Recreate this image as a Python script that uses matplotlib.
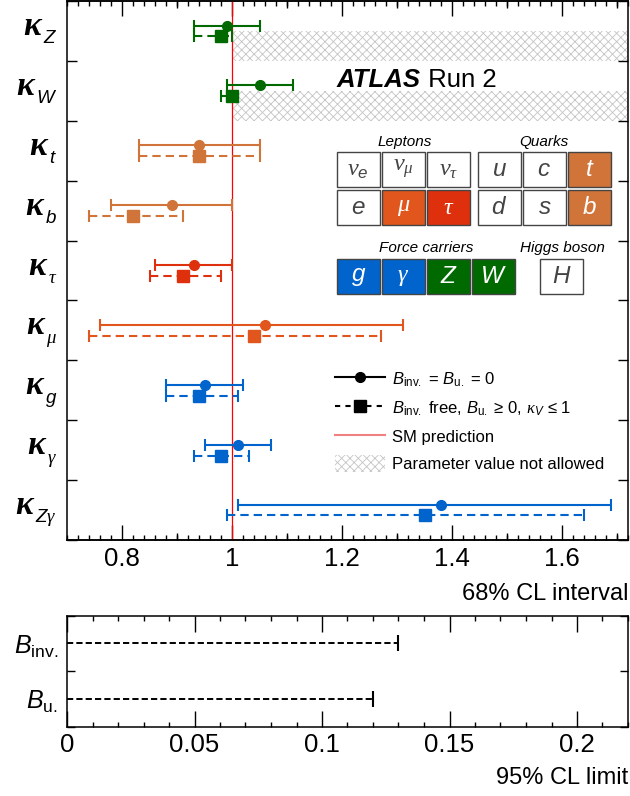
import numpy as np
import matplotlib
matplotlib.use('Agg')
import matplotlib.pyplot as plt
from matplotlib.lines import Line2D
from matplotlib.patches import Patch, Rectangle
from matplotlib.ticker import MultipleLocator, FuncFormatter, NullFormatter

plt.rcParams['font.family'] = ['Liberation Sans', 'DejaVu Sans']
plt.rcParams['mathtext.fontset'] = 'custom'
plt.rcParams['mathtext.rm'] = 'Liberation Sans'
plt.rcParams['mathtext.it'] = 'Liberation Sans:italic'
plt.rcParams['mathtext.bf'] = 'Liberation Sans:bold'
plt.rcParams['mathtext.cal'] = 'Liberation Serif:italic'
plt.rcParams['hatch.linewidth'] = 0.6
plt.rcParams['hatch.color'] = '#c4c4c4'

# coupling modifiers kappa_X (subscripts), 68% CL intervals
params = ['$Z$', '$W$', '$t$', '$b$', r'$\mathcal{\tau}$', r'$\mathcal{\mu}$',
          '$g$', r'$\mathcal{\gamma}$', r'$Z\mathcal{\gamma}$']
# B_inv = B_u = 0
val_fixed = [0.99, 1.05, 0.94, 0.89, 0.93, 1.06, 0.95, 1.01, 1.38]
lo_fixed = [0.93, 0.99, 0.83, 0.78, 0.86, 0.76, 0.88, 0.95, 1.01]
hi_fixed = [1.05, 1.11, 1.05, 1.00, 1.00, 1.31, 1.02, 1.07, 1.69]
# B_inv free, B_u >= 0, kappa_V <= 1
val_free = [0.98, 1.00, 0.94, 0.82, 0.91, 1.04, 0.94, 0.98, 1.35]
lo_free = [0.93, 0.98, 0.83, 0.74, 0.85, 0.74, 0.88, 0.93, 0.99]
hi_free = [1.00, 1.00, 1.05, 0.91, 0.98, 1.27, 1.01, 1.03, 1.64]
bounded = [True, True, False, False, False, False, False, False, False]

# branching ratio limits, 95% CL
br_names = [r'$B_{\mathrm{inv.}}$', r'$B_{\mathrm{u.}}$']
br_limits = [0.13, 0.12]

green = '#006a00'
top_col = '#d0743a'
mu_col = '#e0561c'
tau_col = '#df300e'
blue = '#0064cc'
hatch_col = '#c4c4c4'
row_colors = [green, green, top_col, top_col, tau_col, mu_col, blue, blue, blue]

fig = plt.figure(figsize=(6.3, 7.96), dpi=100)
ax = fig.add_axes([67/630, 1 - 540/796, 561/630, 539/796])
ax2 = fig.add_axes([67/630, 1 - 726.7/796, 561/630, 111/796])

xmax = 1.72
rows = np.arange(len(params))[::-1]
off = 0.09

ax.axvline(1.0, color='red', lw=0.9, zorder=2)

for i, y in enumerate(rows):
    c = row_colors[i]
    ax.errorbar(val_fixed[i], y + off,
                xerr=[[val_fixed[i] - lo_fixed[i]], [hi_fixed[i] - val_fixed[i]]],
                fmt='o', color=c, ms=7, lw=1.5, capsize=4, capthick=1.5, zorder=4)
    eb = ax.errorbar(val_free[i], y - off,
                     xerr=[[val_free[i] - lo_free[i]], [hi_free[i] - val_free[i]]],
                     fmt='s', color=c, ms=8, lw=1.5, capsize=4, capthick=1.5, zorder=4)
    eb[2][0].set_linestyle((0, (4, 2.4)))
    if bounded[i]:
        ax.fill_betweenx([y - 0.5, y], 1.0, xmax, facecolor='white',
                         edgecolor=hatch_col, hatch='xxxx', lw=0, zorder=1)

# kappa labels: serif kappa with a lowered subscript
ytr = ax.get_yaxis_transform()
for i, y in enumerate(rows):
    sub = ax.annotate(params[i], xy=(0, y), xycoords=ytr, xytext=(-7.2, -8.9),
                      textcoords='offset points', ha='right', va='baseline',
                      fontsize=13.5, annotation_clip=False)
    ax.annotate('κ', xy=(0, y), xycoords=(sub, ytr), xytext=(-1.5, -2.9),
                textcoords='offset points', ha='right', va='baseline',
                fontsize=24, family='Liberation Serif', style='italic',
                weight='bold', annotation_clip=False)

fmt = FuncFormatter(lambda v, p: '%g' % round(v, 4))

ax.set_xlim(0.7, xmax)
ax.set_ylim(-0.5, len(params) - 0.5)
ax.xaxis.set_major_locator(MultipleLocator(0.2))
ax.xaxis.set_minor_locator(MultipleLocator(0.02))
ax.xaxis.set_major_formatter(fmt)
ax.set_yticks([])
ax.yaxis.set_minor_locator(MultipleLocator(1.0, offset=0.5))
ax.tick_params(axis='x', which='major', direction='in', length=10.8, width=1,
               top=True, labelsize=18.5, pad=5)
ax.tick_params(axis='x', which='minor', direction='in', length=3.5, width=1, top=True)
ax.tick_params(axis='y', which='minor', direction='in', length=7.2, width=1, right=True)
for side in ('bottom', 'top'):
    sec = ax.secondary_xaxis(side)
    sec.set_xticks([0.9, 1.1, 1.3, 1.5, 1.7])
    sec.xaxis.set_major_formatter(NullFormatter())
    sec.tick_params(direction='in', length=5.3, width=1)
    sec.spines[side].set_linewidth(1.1)
for s in ax.spines.values():
    s.set_linewidth(1.1)

handles = [Line2D([], [], color='k', lw=1.5, marker='o', ms=7),
           Line2D([], [], color='k', lw=1.5, ls=(0, (2.5, 2.5)), marker='s', ms=8),
           Line2D([], [], color='#f08080', lw=1.5),
           Patch(facecolor='white', edgecolor=hatch_col, hatch='xxxx', lw=0)]
labels = [r'$B_{\mathrm{inv.}}$ = $B_{\mathrm{u.}}$ = 0',
          r'$B_{\mathrm{inv.}}$ free, $B_{\mathrm{u.}}$ ≥ 0, $\mathcal{\kappa}_{V}$ ≤ 1',
          'SM prediction', 'Parameter value not allowed']
ax.legend(handles, labels, loc='upper left', bbox_to_anchor=(0.4777, 0.315),
          frameon=False, fontsize=12, handlelength=3.0, handleheight=1.2,
          handletextpad=0.45, labelspacing=0.6, borderpad=0, borderaxespad=0)

# lower panel
br_rows = np.arange(len(br_names))[::-1]
ax2.hlines(br_rows, 0, br_limits, colors='k', linestyles=(0, (3.2, 1.6)), lw=1.4)
ax2.plot(br_limits, br_rows, ls='none', marker='|', ms=11, mew=1.5, color='k')
ax2.set_xlim(0, 0.22)
ax2.set_ylim(-0.5, len(br_names) - 0.5)
ax2.xaxis.set_major_locator(MultipleLocator(0.05))
ax2.xaxis.set_minor_locator(MultipleLocator(0.01))
ax2.xaxis.set_major_formatter(fmt)
ax2.set_yticks(br_rows)
ax2.set_yticklabels(br_names)
ax2.yaxis.set_minor_locator(MultipleLocator(1.0, offset=0.5))
ax2.tick_params(axis='x', which='major', direction='in', length=11.5, width=1,
                top=True, labelsize=18.5, pad=4.5)
ax2.tick_params(axis='x', which='minor', direction='in', length=3.6, width=1, top=True)
ax2.tick_params(axis='y', which='major', length=0, labelsize=18, pad=6.5)
ax2.tick_params(axis='y', which='minor', direction='in', length=6, width=1, right=True)
for s in ax2.spines.values():
    s.set_linewidth(1.1)

fig.text(628/630, 1 - 600/796, '68% CL interval', ha='right', va='baseline', fontsize=17)
fig.text(628/630, 1 - 784/796, '95% CL limit', ha='right', va='baseline', fontsize=17)

# overlay in pixel units for the labels and particle table
ov = fig.add_axes([0, 0, 1, 1])
ov.set_xlim(0, 630)
ov.set_ylim(796, 0)
ov.axis('off')

t = ov.text(337, 87, 'ATLAS', fontsize=18.5, fontweight='bold', fontstyle='italic',
            va='baseline')
ov.annotate(' Run 2', xy=(1, 0), xycoords=t, va='bottom', fontsize=18.5)

bw, bh, step = 43, 35, 45.2
lepton_syms = [[r'$\mathcal{\nu}_{e}$', r'$\mathcal{\nu}_{\mathcal{\mu}}$', r'$\mathcal{\nu}_{\mathcal{\tau}}$'],
               [r'$e$', r'$\mathcal{\mu}$', r'$\mathcal{\tau}$']]
lepton_fill = [['white', 'white', 'white'], ['white', mu_col, tau_col]]
quark_syms = [['$u$', '$c$', '$t$'], ['$d$', '$s$', '$b$']]
quark_fill = [['white', 'white', top_col], ['white', 'white', top_col]]
boson_syms = ['$g$', r'$\mathcal{\gamma}$', '$Z$', '$W$']
boson_fill = [blue, blue, green, green]


def box(x, y, sym, fill):
    ov.add_patch(Rectangle((x, y), bw, bh, facecolor=fill, edgecolor='#444444', lw=1))
    tc = '#444444' if fill == 'white' else 'white'
    ov.text(x + bw / 2, y + bh / 2, sym, ha='center', va='center', color=tc, fontsize=17.5)


for r in range(2):
    for ci in range(3):
        box(336.7 + ci * step, 152.3 + r * 37.7, lepton_syms[r][ci], lepton_fill[r][ci])
        box(477.7 + ci * step, 152.3 + r * 37.7, quark_syms[r][ci], quark_fill[r][ci])
for ci in range(4):
    box(336.7 + ci * step, 259.3, boson_syms[ci], boson_fill[ci])
box(540, 259.3, '$H$', 'white')

for txt, x, y in [('Leptons', 405, 141.7), ('Quarks', 544, 141.7),
                  ('Force carriers', 425.7, 247.7), ('Higgs boson', 562.7, 247.7)]:
    ov.text(x, y, txt, ha='center', va='center', fontsize=11, fontstyle='italic')

fig.savefig('out.png', dpi=100)
